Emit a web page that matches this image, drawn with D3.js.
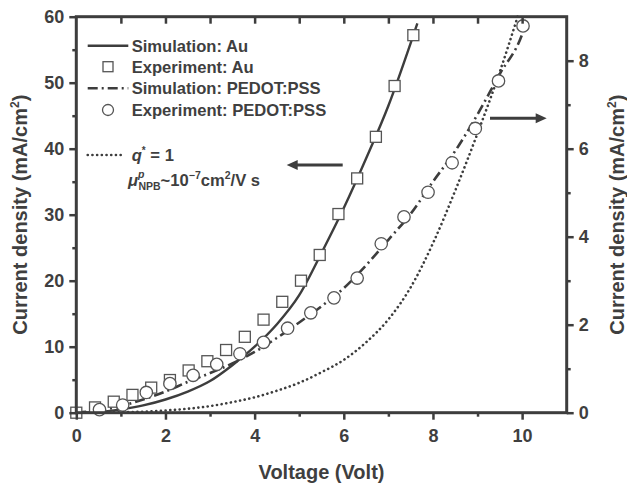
<!DOCTYPE html>
<html><head><meta charset="utf-8">
<script src="https://cdn.jsdelivr.net/npm/d3@7/dist/d3.min.js"></script>
<style>
html,body{margin:0;padding:0;background:#fff;}
svg{display:block;}
text{font-family:"Liberation Sans",Arial,sans-serif;font-weight:bold;fill:#3f3f3f;}
</style></head>
<body>
<svg id="c" width="627" height="487"></svg>
<script>
// ---------- data ----------
const auExpV = [0,0.42,0.84,1.26,1.68,2.1,2.52,2.94,3.36,3.78,4.2,4.62,5.04,5.46,5.88,6.3,6.72,7.14,7.56];
const auExpJ = [0,0.8,1.67,2.7,3.8,4.95,6.4,7.8,9.5,11.5,14.1,16.8,20.0,23.9,30.1,35.5,41.8,49.5,57.2];

const auSimV = [0,0.5,1,1.5,2,2.5,3,3.5,4,4.5,5,5.5,6,6.5,7,7.5,7.65];
const auSimJ = [0,0.1,0.5,1.1,2.0,3.2,4.8,7.2,10.0,13.4,17.8,24.2,31.0,38.5,46.5,56.0,59.0];

const pedExpV = [0.52,1.04,1.57,2.1,2.62,3.15,3.67,4.2,4.74,5.26,5.78,6.3,6.84,7.35,7.89,8.43,8.95,9.47,10.02];
const pedExpJ = [0.07,0.175,0.46,0.66,0.85,1.10,1.34,1.60,1.92,2.27,2.61,3.06,3.84,4.45,5.01,5.68,6.46,7.54,8.79];

const pedSimV = [0,0.5,1,1.5,2,2.5,3,3.5,4,4.5,5,5.5,6,6.5,7,7.5,8,8.5,9,9.5,10,10.1];
const pedSimJ = [0,0.05,0.15,0.3,0.48,0.7,0.9,1.12,1.38,1.7,2.05,2.42,2.83,3.35,3.93,4.52,5.25,5.95,6.78,7.7,8.6,8.9];

const dotV = [0,1,2,3,3.5,4,4.5,5,5.5,6,6.5,7,7.5,8,8.5,9,9.5,9.9];
const dotJ = [0,0.01,0.05,0.15,0.24,0.35,0.5,0.68,0.92,1.2,1.6,2.12,2.85,3.85,5.05,6.35,7.75,9.0];

const xTicks = [0,2,4,6,8,10];
const xMinor = [1,3,5,7,9];
const xTop = [1,2,3,4,5,6,7,8,9,10];
const yLTicks = [0,10,20,30,40,50,60];
const yLMinor = [5,15,25,35,45,55];
const yRTicks = [0,2,4,6,8];
const yRMinor = [1,3,5,7];

const legendLabels = ["Simulation: Au","Experiment: Au","Simulation: PEDOT:PSS","Experiment: PEDOT:PSS"];

// ---------- layout ----------
const C = "#3d3d3d";
const L = 76.3, R = 566.7, T = 16.7, B = 412.7;
const svg = d3.select("#c");
const x = d3.scaleLinear().domain([0,11]).range([L,R]);
const yL = d3.scaleLinear().domain([0,60]).range([B,T]);
const yR = d3.scaleLinear().domain([0,9]).range([B,T]);

function styleAxis(g){
  g.select(".domain").remove();
  g.selectAll(".tick line").attr("stroke",C).attr("stroke-width",2.5);
  g.selectAll(".tick text").attr("fill","#3f3f3f").style("font-size","18px").style("font-weight","bold")
   .style("font-family","'Liberation Sans',Arial,sans-serif");
}

const pts = (V,J)=>V.map((v,i)=>[v,J[i]]);
const lineL = d3.line().x(d=>x(d[0])).y(d=>yL(d[1])).curve(d3.curveMonotoneX);
const lineR = d3.line().x(d=>x(d[0])).y(d=>yR(d[1])).curve(d3.curveMonotoneX);

const plot = svg.append("g");
plot.append("path").attr("d",lineR(pts(dotV,dotJ))).attr("fill","none").attr("stroke",C)
  .attr("stroke-width",2.6).attr("stroke-dasharray","0.1 4.6").attr("stroke-linecap","round");
plot.append("path").attr("d",lineR(pts(pedSimV,pedSimJ))).attr("fill","none").attr("stroke",C)
  .attr("stroke-width",2.6).attr("stroke-dasharray","10 4 2 4");
plot.append("path").attr("d",lineL(pts(auSimV,auSimJ))).attr("fill","none").attr("stroke",C)
  .attr("stroke-width",2.4);

const sq = 11;
plot.selectAll("rect.au").data(pts(auExpV,auExpJ)).enter().append("rect")
  .attr("x",d=>x(d[0])-sq/2).attr("y",d=>yL(d[1])-sq/2).attr("width",sq).attr("height",sq)
  .attr("fill","#fff").attr("stroke","#555").attr("stroke-width",1.3);
plot.selectAll("circle.pd").data(pts(pedExpV,pedExpJ)).enter().append("circle")
  .attr("cx",d=>x(d[0])).attr("cy",d=>yR(d[1])).attr("r",6.2)
  .attr("fill","#fff").attr("stroke","#555").attr("stroke-width",1.3);

// axes
svg.append("g").attr("transform",`translate(0,${B})`)
  .call(d3.axisBottom(x).tickValues(xTicks).tickSize(7).tickSizeOuter(0).tickPadding(10).tickFormat(d3.format("d")))
  .call(styleAxis);
svg.append("g").attr("transform",`translate(0,${B})`)
  .call(d3.axisBottom(x).tickValues(xMinor).tickSize(4).tickFormat(""))
  .call(styleAxis);
svg.append("g").attr("transform",`translate(0,${T})`)
  .call(d3.axisTop(x).tickValues(xTop).tickSize(-7).tickFormat(""))
  .call(styleAxis);
svg.append("g").attr("transform",`translate(${L},0)`)
  .call(d3.axisLeft(yL).tickValues(yLTicks).tickSize(7).tickPadding(5).tickFormat(d3.format("d")))
  .call(styleAxis);
svg.append("g").attr("transform",`translate(${L},0)`)
  .call(d3.axisLeft(yL).tickValues(yLMinor).tickSize(4).tickFormat(""))
  .call(styleAxis);
svg.append("g").attr("transform",`translate(${R},0)`)
  .call(d3.axisRight(yR).tickValues(yRTicks).tickSize(7).tickPadding(5).tickFormat(d3.format("d")))
  .call(styleAxis);
svg.append("g").attr("transform",`translate(${R},0)`)
  .call(d3.axisRight(yR).tickValues(yRMinor).tickSize(4).tickFormat(""))
  .call(styleAxis);

svg.append("rect").attr("x",L).attr("y",T).attr("width",R-L).attr("height",B-T)
  .attr("fill","none").attr("stroke",C).attr("stroke-width",3);

// axis titles
svg.append("text").attr("x",(L+R)/2).attr("y",479).attr("text-anchor","middle")
  .style("font-size","20px").text("Voltage (Volt)");
function yTitle(xp){
  const t = svg.append("text").attr("transform",`translate(${xp},${(T+B)/2}) rotate(-90)`)
    .attr("text-anchor","middle").style("font-size","20px");
  t.append("tspan").text("Current density (mA/cm");
  t.append("tspan").attr("dy",-8).style("font-size","12px").text("2");
  t.append("tspan").attr("dy",8).text(")");
}
yTitle(27);
yTitle(624);

// legend
const lg = svg.append("g");
const lx1 = 87.7, lx2 = 128.3, tx = 131.7;
const rows = [45.7, 66.7, 88.3, 110];
const fs = "16.6px";
lg.append("line").attr("x1",lx1).attr("x2",lx2).attr("y1",rows[0]).attr("y2",rows[0]).attr("stroke",C).attr("stroke-width",2.4);
lg.append("rect").attr("x",108-5).attr("y",rows[1]-5).attr("width",10).attr("height",10).attr("fill","#fff").attr("stroke","#555").attr("stroke-width",1.3);
lg.append("line").attr("x1",lx1).attr("x2",lx2).attr("y1",rows[2]).attr("y2",rows[2]).attr("stroke",C).attr("stroke-width",2.6).attr("stroke-dasharray","10 4 2 4");
lg.append("circle").attr("cx",108).attr("cy",rows[3]).attr("r",5.5).attr("fill","#fff").attr("stroke","#555").attr("stroke-width",1.3);
legendLabels.forEach((s,i)=>{
  lg.append("text").attr("x",tx).attr("y",rows[i]+6).style("font-size",fs).text(s);
});
lg.append("line").attr("x1",lx1).attr("x2",122).attr("y1",155).attr("y2",155).attr("stroke",C)
  .attr("stroke-width",2.6).attr("stroke-dasharray","0.1 4.6").attr("stroke-linecap","round");
const q = lg.append("text").attr("x",tx).attr("y",161).style("font-size",fs);
q.append("tspan").style("font-style","italic").text("q");
q.append("tspan").attr("dy",-7).style("font-size","10px").text("*");
q.append("tspan").attr("dy",7).text(" = 1");
const mu = lg.append("text").attr("x",128).attr("y",186).style("font-size",fs);
mu.append("tspan").style("font-style","italic").text("μ");
mu.append("tspan").attr("dy",-8).style("font-size","10.5px").style("font-style","italic").text("p");
mu.append("tspan").attr("dy",12).attr("dx",-6).style("font-size","10.5px").text("NPB");
mu.append("tspan").attr("dy",-4).text("~10");
mu.append("tspan").attr("dy",-7).style("font-size","10.5px").text("−7");
mu.append("tspan").attr("dy",7).text("cm");
mu.append("tspan").attr("dy",-7).style("font-size","10.5px").text("2");
mu.append("tspan").attr("dy",7).text("/V s");

// arrows
function arrow(xFrom,xTo,y){
  const dir = Math.sign(xTo-xFrom);
  svg.append("line").attr("x1",xFrom).attr("x2",xTo-dir*8).attr("y1",y).attr("y2",y)
    .attr("stroke",C).attr("stroke-width",3);
  svg.append("path").attr("d",`M${xTo},${y} L${xTo-dir*11},${y-5} L${xTo-dir*11},${y+5} Z`).attr("fill",C);
}
arrow(342.7,286.7,165);
arrow(490,546.7,118.3);
</script>
</body></html>
